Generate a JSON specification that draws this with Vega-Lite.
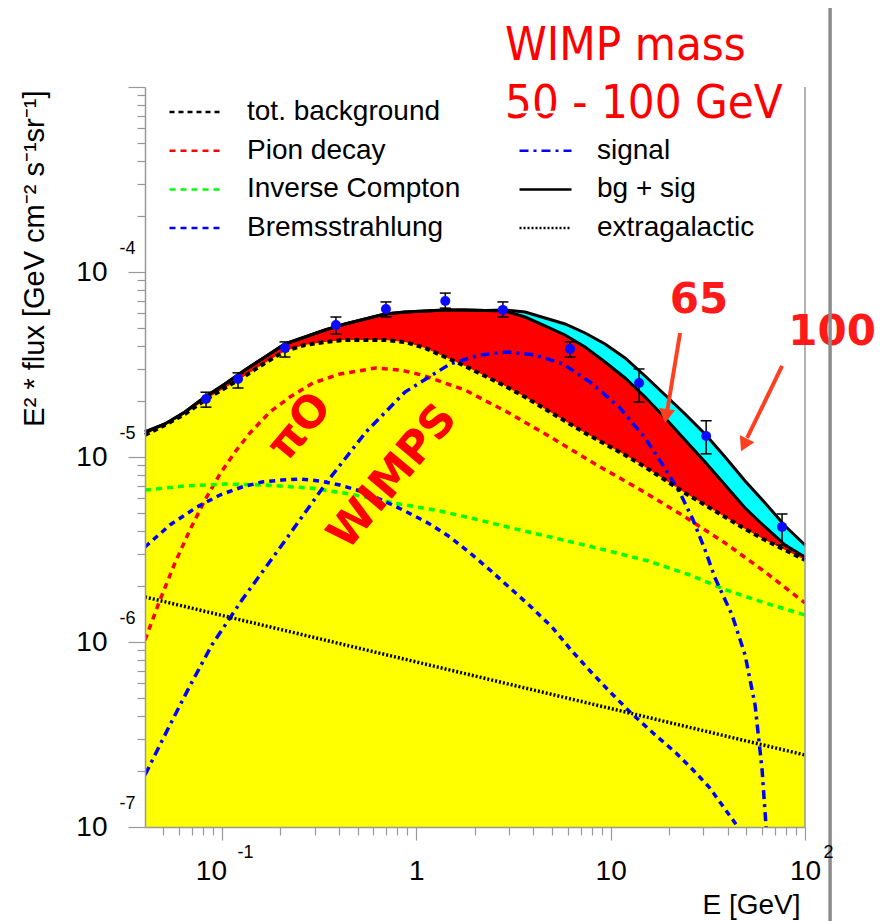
{
  "$schema": "https://vega.github.io/schema/vega-lite/v6.json",
  "width": 660,
  "height": 740,
  "autosize": {"type": "none"},
  "padding": {"left": 145, "top": 87, "right": 77, "bottom": 94},
  "background": "white",
  "config": {"view": {"stroke": null}, "font": "Liberation Sans"},
  "datasets": {
    "bands": [
      {"E": 0.0402, "bg": 1.315e-5, "s65": 1.365e-5, "s100": 1.365e-5},
      {"E": 0.0509, "bg": 1.489e-5, "s65": 1.508e-5, "s100": 1.508e-5},
      {"E": 0.0645, "bg": 1.708e-5, "s65": 1.751e-5, "s100": 1.751e-5},
      {"E": 0.0818, "bg": 2.033e-5, "s65": 2.110e-5, "s100": 2.110e-5},
      {"E": 0.1036, "bg": 2.360e-5, "s65": 2.481e-5, "s100": 2.481e-5},
      {"E": 0.1314, "bg": 2.741e-5, "s65": 2.953e-5, "s100": 2.953e-5},
      {"E": 0.1665, "bg": 3.222e-5, "s65": 3.472e-5, "s100": 3.472e-5},
      {"E": 0.211, "bg": 3.741e-5, "s65": 4.083e-5, "s100": 4.083e-5},
      {"E": 0.2674, "bg": 4.032e-5, "s65": 4.455e-5, "s100": 4.455e-5},
      {"E": 0.3389, "bg": 4.185e-5, "s65": 4.860e-5, "s100": 4.860e-5},
      {"E": 0.4296, "bg": 4.290e-5, "s65": 5.236e-5, "s100": 5.236e-5},
      {"E": 0.5445, "bg": 4.290e-5, "s65": 5.570e-5, "s100": 5.570e-5},
      {"E": 0.690, "bg": 4.290e-5, "s65": 5.929e-5, "s100": 5.929e-5},
      {"E": 0.875, "bg": 4.185e-5, "s65": 6.078e-5, "s100": 6.078e-5},
      {"E": 1.109, "bg": 3.885e-5, "s65": 6.154e-5, "s100": 6.154e-5},
      {"E": 1.405, "bg": 3.472e-5, "s65": 6.231e-5, "s100": 6.231e-5},
      {"E": 1.781, "bg": 3.104e-5, "s65": 6.231e-5, "s100": 6.231e-5},
      {"E": 2.258, "bg": 2.741e-5, "s65": 6.19e-5, "s100": 6.19e-5},
      {"E": 2.861, "bg": 2.420e-5, "s65": 6.154e-5, "s100": 6.231e-5},
      {"E": 3.627, "bg": 2.110e-5, "s65": 5.711e-5, "s100": 6.078e-5},
      {"E": 4.597, "bg": 1.817e-5, "s65": 5.107e-5, "s100": 5.640e-5},
      {"E": 5.827, "bg": 1.566e-5, "s65": 4.566e-5, "s100": 5.236e-5},
      {"E": 7.385, "bg": 1.348e-5, "s65": 3.933e-5, "s100": 4.682e-5},
      {"E": 9.358, "bg": 1.176e-5, "s65": 3.262e-5, "s100": 4.083e-5},
      {"E": 11.86, "bg": 1.025e-5, "s65": 2.673e-5, "s100": 3.429e-5},
      {"E": 15.04, "bg": 8.830e-6, "s65": 2.110e-5, "s100": 2.741e-5},
      {"E": 19.06, "bg": 7.513e-6, "s65": 1.625e-5, "s100": 2.163e-5},
      {"E": 24.15, "bg": 6.388e-6, "s65": 1.236e-5, "s100": 1.708e-5},
      {"E": 30.61, "bg": 5.501e-6, "s65": 9.397e-6, "s100": 1.331e-5},
      {"E": 38.80, "bg": 4.741e-6, "s65": 7.057e-6, "s100": 1.000e-5},
      {"E": 49.17, "bg": 4.083e-6, "s65": 5.300e-6, "s100": 7.420e-6},
      {"E": 62.33, "bg": 3.560e-6, "s65": 4.185e-6, "s100": 5.640e-6},
      {"E": 79.0, "bg": 3.143e-6, "s65": 3.344e-6, "s100": 4.237e-6},
      {"E": 100, "bg": 2.775e-6, "s65": 2.881e-6, "s100": 3.344e-6}
    ],
    "curves": [
      {"series": "Pion decay", "E": 0.0402, "flux": 1.025e-6},
      {"series": "Pion decay", "E": 0.0480, "flux": 1.687e-6},
      {"series": "Pion decay", "E": 0.0573, "flux": 2.673e-6},
      {"series": "Pion decay", "E": 0.0684, "flux": 4.032e-6},
      {"series": "Pion decay", "E": 0.0818, "flux": 5.856e-6},
      {"series": "Pion decay", "E": 0.0977, "flux": 8.094e-6},
      {"series": "Pion decay", "E": 0.1167, "flux": 1.064e-5},
      {"series": "Pion decay", "E": 0.1393, "flux": 1.348e-5},
      {"series": "Pion decay", "E": 0.1766, "flux": 1.751e-5},
      {"series": "Pion decay", "E": 0.2239, "flux": 2.110e-5},
      {"series": "Pion decay", "E": 0.2940, "flux": 2.512e-5},
      {"series": "Pion decay", "E": 0.4049, "flux": 2.810e-5},
      {"series": "Pion decay", "E": 0.6203, "flux": 3.028e-5},
      {"series": "Pion decay", "E": 0.8244, "flux": 2.953e-5},
      {"series": "Pion decay", "E": 1.070, "flux": 2.775e-5},
      {"series": "Pion decay", "E": 1.781, "flux": 2.302e-5},
      {"series": "Pion decay", "E": 3.000, "flux": 1.729e-5},
      {"series": "Pion decay", "E": 4.994, "flux": 1.267e-5},
      {"series": "Pion decay", "E": 8.313, "flux": 9.166e-6},
      {"series": "Pion decay", "E": 14.00, "flux": 6.714e-6},
      {"series": "Pion decay", "E": 23.31, "flux": 4.860e-6},
      {"series": "Pion decay", "E": 38.80, "flux": 3.429e-6},
      {"series": "Pion decay", "E": 62.33, "flux": 2.390e-6},
      {"series": "Pion decay", "E": 100, "flux": 1.625e-6},
      {"series": "Inverse Compton", "E": 0.0402, "flux": 6.631e-6},
      {"series": "Inverse Compton", "E": 0.0645, "flux": 6.970e-6},
      {"series": "Inverse Compton", "E": 0.1036, "flux": 7.145e-6},
      {"series": "Inverse Compton", "E": 0.1665, "flux": 7.057e-6},
      {"series": "Inverse Compton", "E": 0.2838, "flux": 6.798e-6},
      {"series": "Inverse Compton", "E": 0.4558, "flux": 6.310e-6},
      {"series": "Inverse Compton", "E": 0.7678, "flux": 5.640e-6},
      {"series": "Inverse Compton", "E": 1.324, "flux": 5.107e-6},
      {"series": "Inverse Compton", "E": 2.102, "flux": 4.566e-6},
      {"series": "Inverse Compton", "E": 3.418, "flux": 4.032e-6},
      {"series": "Inverse Compton", "E": 5.689, "flux": 3.560e-6},
      {"series": "Inverse Compton", "E": 9.358, "flux": 3.143e-6},
      {"series": "Inverse Compton", "E": 15.57, "flux": 2.741e-6},
      {"series": "Inverse Compton", "E": 25.62, "flux": 2.302e-6},
      {"series": "Inverse Compton", "E": 39.26, "flux": 1.910e-6},
      {"series": "Inverse Compton", "E": 62.33, "flux": 1.625e-6},
      {"series": "Inverse Compton", "E": 100, "flux": 1.399e-6},
      {"series": "Bremsstrahlung", "E": 0.0402, "flux": 3.262e-6},
      {"series": "Bremsstrahlung", "E": 0.0540, "flux": 4.290e-6},
      {"series": "Bremsstrahlung", "E": 0.0744, "flux": 5.367e-6},
      {"series": "Bremsstrahlung", "E": 0.0977, "flux": 6.231e-6},
      {"series": "Bremsstrahlung", "E": 0.1268, "flux": 6.884e-6},
      {"series": "Bremsstrahlung", "E": 0.1607, "flux": 7.325e-6},
      {"series": "Bremsstrahlung", "E": 0.2036, "flux": 7.513e-6},
      {"series": "Bremsstrahlung", "E": 0.2520, "flux": 7.606e-6},
      {"series": "Bremsstrahlung", "E": 0.3194, "flux": 7.420e-6},
      {"series": "Bremsstrahlung", "E": 0.4049, "flux": 7.057e-6},
      {"series": "Bremsstrahlung", "E": 0.5131, "flux": 6.549e-6},
      {"series": "Bremsstrahlung", "E": 0.6660, "flux": 5.856e-6},
      {"series": "Bremsstrahlung", "E": 0.8747, "flux": 5.107e-6},
      {"series": "Bremsstrahlung", "E": 1.149, "flux": 4.400e-6},
      {"series": "Bremsstrahlung", "E": 1.491, "flux": 3.695e-6},
      {"series": "Bremsstrahlung", "E": 1.890, "flux": 3.028e-6},
      {"series": "Bremsstrahlung", "E": 2.395, "flux": 2.450e-6},
      {"series": "Bremsstrahlung", "E": 3.036, "flux": 1.958e-6},
      {"series": "Bremsstrahlung", "E": 3.848, "flux": 1.566e-6},
      {"series": "Bremsstrahlung", "E": 4.994, "flux": 1.205e-6},
      {"series": "Bremsstrahlung", "E": 6.256, "flux": 9.052e-7},
      {"series": "Bremsstrahlung", "E": 7.929, "flux": 6.884e-7},
      {"series": "Bremsstrahlung", "E": 10.05, "flux": 5.300e-7},
      {"series": "Bremsstrahlung", "E": 12.74, "flux": 4.133e-7},
      {"series": "Bremsstrahlung", "E": 16.53, "flux": 3.222e-7},
      {"series": "Bremsstrahlung", "E": 21.71, "flux": 2.512e-7},
      {"series": "Bremsstrahlung", "E": 26.56, "flux": 2.033e-7},
      {"series": "Bremsstrahlung", "E": 32.09, "flux": 1.645e-7},
      {"series": "Bremsstrahlung", "E": 37.44, "flux": 1.315e-7},
      {"series": "Bremsstrahlung", "E": 43.68, "flux": 1.051e-7},
      {"series": "Bremsstrahlung", "E": 52.18, "flux": 7.99e-8},
      {"series": "signal", "E": 0.0402, "flux": 1.910e-7},
      {"series": "signal", "E": 0.0540, "flux": 3.560e-7},
      {"series": "signal", "E": 0.0684, "flux": 5.784e-7},
      {"series": "signal", "E": 0.0888, "flux": 9.634e-7},
      {"series": "signal", "E": 0.1268, "flux": 1.687e-6},
      {"series": "signal", "E": 0.2036, "flux": 3.344e-6},
      {"series": "signal", "E": 0.3470, "flux": 7.325e-6},
      {"series": "signal", "E": 0.5509, "flux": 1.365e-5},
      {"series": "signal", "E": 0.8747, "flux": 2.245e-5},
      {"series": "signal", "E": 1.491, "flux": 3.182e-5},
      {"series": "signal", "E": 2.127, "flux": 3.560e-5},
      {"series": "signal", "E": 2.930, "flux": 3.695e-5},
      {"series": "signal", "E": 4.082, "flux": 3.560e-5},
      {"series": "signal", "E": 5.689, "flux": 3.182e-5},
      {"series": "signal", "E": 7.834, "flux": 2.543e-5},
      {"series": "signal", "E": 11.05, "flux": 1.864e-5},
      {"series": "signal", "E": 15.04, "flux": 1.267e-5},
      {"series": "signal", "E": 18.83, "flux": 8.830e-6},
      {"series": "signal", "E": 22.76, "flux": 6.388e-6},
      {"series": "signal", "E": 26.56, "flux": 4.566e-6},
      {"series": "signal", "E": 30.61, "flux": 3.143e-6},
      {"series": "signal", "E": 34.46, "flux": 2.218e-6},
      {"series": "signal", "E": 42.15, "flux": 1.399e-6},
      {"series": "signal", "E": 49.17, "flux": 8.507e-7},
      {"series": "signal", "E": 55.36, "flux": 4.566e-7},
      {"series": "signal", "E": 60.16, "flux": 2.033e-7},
      {"series": "signal", "E": 63.07, "flux": 1.0e-7},
      {"series": "signal", "E": 64.58, "flux": 6.631e-8},
      {"series": "extragalactic", "E": 0.0402, "flux": 1.751e-6},
      {"series": "extragalactic", "E": 2.005, "flux": 6.549e-7},
      {"series": "extragalactic", "E": 100, "flux": 2.450e-7}
    ],
    "points": [
      {"E": 0.0828, "flux": 2.06e-5, "lo": 1.86e-5, "hi": 2.24e-5},
      {"E": 0.121, "flux": 2.64e-5, "lo": 2.36e-5, "hi": 2.85e-5},
      {"E": 0.211, "flux": 3.88e-5, "lo": 3.47e-5, "hi": 4.19e-5},
      {"E": 0.386, "flux": 5.17e-5, "lo": 4.62e-5, "hi": 5.71e-5},
      {"E": 0.698, "flux": 6.31e-5, "lo": 5.71e-5, "hi": 6.89e-5},
      {"E": 1.41, "flux": 6.97e-5, "lo": 6.38e-5, "hi": 7.69e-5},
      {"E": 2.79, "flux": 6.24e-5, "lo": 5.71e-5, "hi": 6.89e-5},
      {"E": 6.18, "flux": 3.84e-5, "lo": 3.47e-5, "hi": 4.19e-5},
      {"E": 14.0, "flux": 2.51e-5, "lo": 1.98e-5, "hi": 2.99e-5},
      {"E": 31.0, "flux": 1.30e-5, "lo": 1.04e-5, "hi": 1.57e-5},
      {"E": 76.2, "flux": 4.19e-6, "lo": 3.34e-6, "hi": 4.92e-6}
    ]
  },
  "resolve": {"axis": {"x": "independent", "y": "independent"}},
  "layer": [
    {
      "data": {"name": "bands"},
      "mark": {"type": "area", "color": "#ffff00", "opacity": 1},
      "encoding": {
        "x": {
          "field": "E", "type": "quantitative",
          "scale": {"type": "log", "domain": [0.0402, 100], "nice": false},
          "axis": {
            "orient": "bottom",
            "values": [0.05,0.06,0.07,0.08,0.09,0.1,0.2,0.3,0.4,0.5,0.6,0.7,0.8,0.9,1,2,3,4,5,6,7,8,9,10,20,30,40,50,60,70,80,90,100],
            "tickSize": {"condition": {"test": "indexof([0.1,1,10,100], datum.value) >= 0", "value": 13}, "value": 8},
            "labelExpr": "datum.value == 1 ? '1' : (datum.value == 0.1 || datum.value == 10 || datum.value == 100) ? '10' : ''",
            "labelOffset": {"condition": {"test": "datum.value == 0.1", "value": -11}, "value": 0},
            "labelFont": "Liberation Sans", "labelFontSize": 28, "labelColor": "#000000",
            "labelPadding": 17, "labelBaseline": "top",
            "labelOverlap": false, "labelFlush": false, "labelBound": false,
            "domainColor": "#999999", "domainWidth": 1.5, "tickColor": "#999999", "tickWidth": 1.2,
            "grid": false, "zindex": 1,
            "title": "E [GeV]", "titleFont": "Liberation Sans", "titleFontSize": 28, "titleFontWeight": "normal",
            "titleColor": "#000000", "titleAnchor": "end", "titleAlign": "right", "titleBaseline": "alphabetic",
            "titleX": 655, "titleY": 86
          }
        },
        "y": {
          "field": "bg", "type": "quantitative",
          "scale": {"type": "log", "domain": [1e-7, 1e-3], "nice": false},
          "axis": {
            "orient": "left",
            "values": [1e-7,2e-7,3e-7,4e-7,5e-7,6e-7,7e-7,8e-7,9e-7,1e-6,2e-6,3e-6,4e-6,5e-6,6e-6,7e-6,8e-6,9e-6,1e-5,2e-5,3e-5,4e-5,5e-5,6e-5,7e-5,8e-5,9e-5,1e-4,2e-4,3e-4,4e-4,5e-4,6e-4,7e-4,8e-4,9e-4,1e-3],
            "tickSize": {"condition": {"test": "indexof([1e-7,1e-6,1e-5,1e-4,1e-3], datum.value) >= 0", "value": 17}, "value": 8},
            "labelExpr": "indexof([1e-7,1e-6,1e-5,1e-4], datum.value) >= 0 ? '10' : ''",
            "labelFont": "Liberation Sans", "labelFontSize": 28, "labelColor": "#000000",
            "labelPadding": 21, "labelAlign": "right", "labelBaseline": "middle", "labelOffset": 0,
            "labelOverlap": false, "labelFlush": false, "labelBound": false,
            "domainColor": "#999999", "domainWidth": 1.5, "tickColor": "#999999", "tickWidth": 1.2,
            "grid": false, "zindex": 1,
            "title": "E² * flux [GeV cm⁻² s⁻¹sr⁻¹]", "titleFont": "Liberation Sans", "titleFontSize": 29,
            "titleFontWeight": "normal", "titleColor": "#000000", "titleAngle": -90,
            "titleAlign": "right", "titleBaseline": "alphabetic", "titleX": -102, "titleY": 3
          }
        },
        "y2": {"datum": 1e-7}
      }
    },
    {
      "data": {"name": "bands"},
      "mark": {"type": "area", "color": "#ff0000", "opacity": 1},
      "encoding": {
        "x": {"field": "E", "type": "quantitative", "axis": null},
        "y": {"field": "s65", "type": "quantitative", "axis": null},
        "y2": {"field": "bg"}
      }
    },
    {
      "data": {"name": "bands"},
      "mark": {"type": "area", "color": "#00ffff", "opacity": 1},
      "encoding": {
        "x": {"field": "E", "type": "quantitative", "axis": null},
        "y": {"field": "s100", "type": "quantitative", "axis": null},
        "y2": {"field": "s65"}
      }
    },
    {
      "data": {"name": "curves"},
      "mark": {"type": "line", "strokeWidth": 3.5, "clip": true},
      "encoding": {
        "x": {"field": "E", "type": "quantitative", "axis": null},
        "y": {"field": "flux", "type": "quantitative", "axis": null},
        "color": {
          "field": "series", "type": "nominal",
          "scale": {
            "domain": ["tot. background", "Pion decay", "Inverse Compton", "Bremsstrahlung", " ", "signal", "bg + sig", "extragalactic"],
            "range": ["#000000", "#ff0000", "#00ff00", "#0000ff", "#ffffff", "#0000ff", "#000000", "#000000"]
          },
          "legend": {
            "title": null, "orient": "none", "legendX": 23, "legendY": 10, "columns": 2,
            "symbolType": "stroke", "symbolSize": 2704, "symbolStrokeWidth": 2.5,
            "labelFont": "Liberation Sans", "labelFontSize": 28, "labelColor": "#000000", "labelOffset": 24,
            "clipHeight": 30, "rowPadding": 8.7, "columnPadding": 57, "labelLimit": 400, "padding": 0
          }
        },
        "strokeDash": {
          "field": "series", "type": "nominal",
          "scale": {
            "domain": ["tot. background", "Pion decay", "Inverse Compton", "Bremsstrahlung", " ", "signal", "bg + sig", "extragalactic"],
            "range": [[5, 4], [6, 5], [6, 5], [6, 5], [1, 0], [9, 5, 3, 5], [1, 0], [2, 2]]
          },
          "legend": {
            "title": null, "orient": "none", "legendX": 23, "legendY": 10, "columns": 2,
            "symbolType": "stroke", "symbolSize": 2704, "symbolStrokeWidth": 2.5,
            "labelFont": "Liberation Sans", "labelFontSize": 28, "labelColor": "#000000", "labelOffset": 24,
            "clipHeight": 30, "rowPadding": 8.7, "columnPadding": 57, "labelLimit": 400, "padding": 0
          }
        }
      }
    },
    {
      "data": {"name": "bands"},
      "mark": {"type": "line", "color": "#000000", "strokeWidth": 4, "strokeDash": [5, 4]},
      "encoding": {
        "x": {"field": "E", "type": "quantitative", "axis": null},
        "y": {"field": "bg", "type": "quantitative", "axis": null}
      }
    },
    {
      "data": {"name": "bands"},
      "mark": {"type": "line", "color": "#000000", "strokeWidth": 3},
      "encoding": {
        "x": {"field": "E", "type": "quantitative", "axis": null},
        "y": {"field": "s65", "type": "quantitative", "axis": null}
      }
    },
    {
      "data": {"name": "bands"},
      "mark": {"type": "line", "color": "#000000", "strokeWidth": 3},
      "encoding": {
        "x": {"field": "E", "type": "quantitative", "axis": null},
        "y": {"field": "s100", "type": "quantitative", "axis": null}
      }
    },
    {
      "data": {"name": "points"},
      "mark": {"type": "rule", "color": "#000000", "strokeWidth": 1.5},
      "encoding": {
        "x": {"field": "E", "type": "quantitative", "axis": null},
        "y": {"field": "lo", "type": "quantitative", "axis": null},
        "y2": {"field": "hi"}
      }
    },
    {
      "data": {"name": "points"},
      "mark": {"type": "point", "shape": "stroke", "size": 121, "color": "#000000", "strokeWidth": 1.5, "filled": false, "opacity": 1},
      "encoding": {
        "x": {"field": "E", "type": "quantitative", "axis": null},
        "y": {"field": "lo", "type": "quantitative", "axis": null}
      }
    },
    {
      "data": {"name": "points"},
      "mark": {"type": "point", "shape": "stroke", "size": 121, "color": "#000000", "strokeWidth": 1.5, "filled": false, "opacity": 1},
      "encoding": {
        "x": {"field": "E", "type": "quantitative", "axis": null},
        "y": {"field": "hi", "type": "quantitative", "axis": null}
      }
    },
    {
      "data": {"name": "points"},
      "mark": {"type": "point", "shape": "circle", "size": 100, "color": "#0a0aff", "filled": true, "opacity": 1},
      "encoding": {
        "x": {
          "field": "E", "type": "quantitative",
          "axis": {
            "orient": "bottom", "values": [0.1, 100],
            "labelExpr": "datum.value == 0.1 ? '-1' : '2'",
            "ticks": false, "tickSize": 0, "domain": false, "grid": false,
            "labelFont": "Liberation Sans", "labelFontSize": 18, "labelColor": "#000000",
            "labelAlign": "left", "labelBaseline": "top", "labelPadding": 16,
            "labelOffset": {"condition": {"test": "datum.value == 100", "value": 18}, "value": 15},
            "labelOverlap": false, "labelFlush": false, "labelBound": false, "title": null, "zindex": 1
          }
        },
        "y": {
          "field": "flux", "type": "quantitative",
          "axis": {
            "orient": "left", "values": [1e-7, 1e-6, 1e-5, 1e-4],
            "labelExpr": "datum.value == 1e-4 ? '-4' : datum.value == 1e-5 ? '-5' : datum.value == 1e-6 ? '-6' : '-7'",
            "ticks": false, "tickSize": 0, "domain": false, "grid": false,
            "labelFont": "Liberation Sans", "labelFontSize": 18, "labelColor": "#000000",
            "labelAlign": "left", "labelBaseline": "middle", "labelPadding": 26, "labelOffset": -24,
            "labelOverlap": false, "labelFlush": false, "labelBound": false, "title": null, "zindex": 1
          }
        }
      }
    },
    {
      "mark": {"type": "rule", "color": "#999999", "strokeWidth": 1.5},
      "encoding": {
        "x": {"datum": 0.0402, "type": "quantitative", "axis": null},
        "x2": {"datum": 2.395},
        "y": {"datum": 0.001, "type": "quantitative", "axis": null}
      }
    },
    {
      "data": {"values": [{"E": 100, "lo": 1e-7, "hi": 1e-3}]},
      "mark": {"type": "rule", "color": "#999999", "strokeWidth": 1.5},
      "encoding": {
        "x": {"field": "E", "type": "quantitative", "axis": null},
        "y": {"field": "lo", "type": "quantitative", "axis": null},
        "y2": {"field": "hi"}
      }
    },
    {
      "data": {"values": [{"label": "WIMP mass", "E": 2.861, "flux": 1.399e-3}, {"label": "50 - 100 GeV", "E": 2.861, "flux": 6.798e-4}]},
      "mark": {"type": "text", "font": "DejaVu Sans Condensed", "fontSize": 47, "color": "#ff0000", "align": "left", "baseline": "alphabetic"},
      "encoding": {
        "x": {"field": "E", "type": "quantitative", "axis": null},
        "y": {"field": "flux", "type": "quantitative", "axis": null},
        "text": {"field": "label"}
      }
    },
    {
      "data": {"values": [{"label": "65", "E": 28.51, "flux": 6.003e-5}, {"label": "100", "E": 137.9, "flux": 4.032e-5}]},
      "mark": {"type": "text", "font": "DejaVu Sans", "fontWeight": "bold", "fontSize": 42, "color": "#ff1a1a", "align": "center", "baseline": "alphabetic"},
      "encoding": {
        "x": {"field": "E", "type": "quantitative", "axis": null},
        "y": {"field": "flux", "type": "quantitative", "axis": null},
        "text": {"field": "label"}
      }
    },
    {
      "data": {"values": [{"label": "πO", "E": 0.2520, "flux": 1.453e-5}, {"label": "WIMPS", "E": 0.7588, "flux": 7.797e-6}]},
      "mark": {"type": "text", "font": "DejaVu Sans", "fontWeight": "bold", "fontSize": 44, "color": "#ff0000", "align": "center", "baseline": "middle", "angle": 310},
      "encoding": {
        "x": {"field": "E", "type": "quantitative", "axis": null},
        "y": {"field": "flux", "type": "quantitative", "axis": null},
        "text": {"field": "label"}
      }
    },
    {
      "data": {"values": [{"E": 22.76, "flux": 4.682e-5, "E2": 19.51, "flux2": 1.751e-5}, {"E": 76.24, "flux": 3.104e-5, "E2": 50.35, "flux2": 1.267e-5}]},
      "mark": {"type": "rule", "color": "#ff4020", "strokeWidth": 4},
      "encoding": {
        "x": {"field": "E", "type": "quantitative", "axis": null},
        "y": {"field": "flux", "type": "quantitative", "axis": null},
        "x2": {"field": "E2"},
        "y2": {"field": "flux2"}
      }
    },
    {
      "data": {"values": [{"E": 19.28, "flux": 1.665e-5}]},
      "mark": {"type": "point", "shape": "triangle-down", "size": 260, "color": "#ff4020", "filled": true, "opacity": 1, "angle": 8.4},
      "encoding": {
        "x": {"field": "E", "type": "quantitative", "axis": null},
        "y": {"field": "flux", "type": "quantitative", "axis": null}
      }
    },
    {
      "data": {"values": [{"E": 48.6, "flux": 1.161e-5}]},
      "mark": {"type": "point", "shape": "triangle-down", "size": 260, "color": "#ff4020", "filled": true, "opacity": 1, "angle": 25.8},
      "encoding": {
        "x": {"field": "E", "type": "quantitative", "axis": null},
        "y": {"field": "flux", "type": "quantitative", "axis": null}
      }
    },
    {
      "data": {"values": [{"E": 134.6, "lo": 3.104e-8, "hi": 2.673e-3}]},
      "mark": {"type": "rule", "color": "#8c8c8c", "strokeWidth": 3.5},
      "encoding": {
        "x": {"field": "E", "type": "quantitative", "axis": null},
        "y": {"field": "lo", "type": "quantitative", "axis": null},
        "y2": {"field": "hi"}
      }
    }
  ]
}
